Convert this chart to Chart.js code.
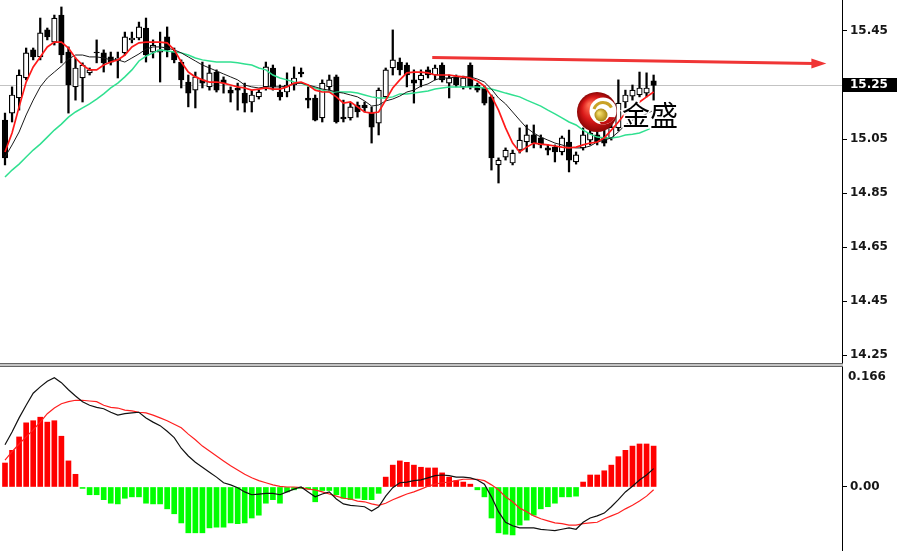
<!DOCTYPE html>
<html><head><meta charset="utf-8">
<script src="https://cdn.jsdelivr.net/npm/chart.js@4.4.0/dist/chart.umd.min.js"></script>
<style>
html,body{margin:0;padding:0;background:#fff;}
#wrap{position:relative;width:900px;height:551px;overflow:hidden;background:#fff}
#c1{position:absolute;left:0;top:0}
#c2{position:absolute;left:0;top:367px}
#sep{position:absolute;left:0;top:363px;width:843px;height:2px;border-top:1px solid #666;border-bottom:1px solid #666;background:#c4c4c4}
</style></head><body>
<div id="wrap">
<canvas id="c1" width="900" height="363"></canvas>
<div id="sep"></div>
<canvas id="c2" width="900" height="184"></canvas>
</div>
<script>
// ---- price candles ----
const opens = [15.120,15.146,15.202,15.276,15.380,15.354,15.454,15.409,15.509,15.372,
15.243,15.276,15.295,15.372,15.369,15.354,15.343,15.369,15.417,15.424,
15.461,15.372,15.372,15.428,15.372,15.335,15.261,15.231,15.269,15.243,
15.298,15.269,15.231,15.239,15.220,15.187,15.206,15.243,15.313,15.224,
15.224,15.250,15.298,15.202,15.202,15.128,15.243,15.280,15.131,15.128,
15.176,15.176,15.150,15.109,15.206,15.313,15.335,15.324,15.269,15.269,
15.306,15.287,15.324,15.257,15.280,15.243,15.324,15.250,15.239,15.206,
14.954,14.983,14.961,15.009,15.039,15.065,15.054,15.017,15.020,15.002,
15.039,14.965,15.017,15.046,15.065,15.057,15.054,15.091,15.187,15.209,
15.213,15.220,15.265];
const highs = [15.146,15.243,15.306,15.387,15.387,15.498,15.461,15.509,15.539,15.391,
15.350,15.332,15.313,15.417,15.380,15.372,15.372,15.446,15.446,15.483,
15.498,15.417,15.446,15.465,15.387,15.343,15.287,15.298,15.335,15.324,
15.306,15.280,15.243,15.257,15.257,15.231,15.231,15.335,15.324,15.250,
15.295,15.317,15.313,15.243,15.213,15.269,15.287,15.287,15.194,15.183,
15.187,15.187,15.169,15.239,15.313,15.454,15.350,15.332,15.306,15.306,
15.317,15.324,15.332,15.287,15.287,15.283,15.332,15.257,15.246,15.213,
14.980,15.017,15.009,15.091,15.102,15.102,15.065,15.028,15.028,15.061,
15.083,15.002,15.091,15.120,15.083,15.083,15.120,15.269,15.231,15.250,
15.298,15.295,15.287];
const lows = [14.954,15.113,15.157,15.269,15.343,15.343,15.417,15.398,15.332,15.146,
15.194,15.187,15.287,15.332,15.298,15.324,15.276,15.361,15.406,15.417,
15.335,15.350,15.261,15.354,15.332,15.239,15.169,15.165,15.239,15.231,
15.224,15.220,15.187,15.157,15.150,15.150,15.198,15.231,15.231,15.194,
15.206,15.231,15.280,15.165,15.117,15.113,15.231,15.109,15.113,15.120,
15.131,15.150,15.035,15.065,15.202,15.287,15.287,15.243,15.183,15.243,
15.276,15.269,15.261,15.202,15.243,15.235,15.235,15.224,15.176,14.935,
14.887,14.972,14.954,14.998,15.002,15.017,15.017,14.991,14.965,14.991,
14.928,14.957,15.009,15.028,15.028,15.024,15.046,15.080,15.165,15.194,
15.206,15.206,15.194];
const closes = [14.980,15.213,15.287,15.369,15.354,15.443,15.428,15.498,15.361,15.250,
15.313,15.324,15.306,15.369,15.332,15.335,15.350,15.428,15.424,15.465,
15.361,15.398,15.380,15.380,15.343,15.269,15.220,15.280,15.257,15.295,
15.231,15.257,15.220,15.231,15.183,15.213,15.224,15.317,15.243,15.206,
15.250,15.276,15.291,15.194,15.120,15.257,15.269,15.113,15.124,15.169,
15.150,15.165,15.094,15.231,15.306,15.343,15.306,15.287,15.257,15.287,
15.287,15.313,15.269,15.276,15.250,15.276,15.243,15.231,15.183,14.980,
14.972,15.009,14.998,15.046,15.065,15.035,15.028,15.009,15.002,15.054,
14.972,14.991,15.065,15.072,15.039,15.035,15.094,15.183,15.213,15.231,
15.239,15.239,15.248];
// ---- moving averages ----
const maFast = [15.002,15.072,15.169,15.261,15.317,15.354,15.391,15.409,15.409,15.387,
15.350,15.324,15.306,15.306,15.324,15.335,15.343,15.361,15.391,15.406,
15.409,15.409,15.409,15.406,15.380,15.335,15.298,15.280,15.269,15.261,
15.261,15.257,15.250,15.243,15.239,15.231,15.235,15.239,15.235,15.235,
15.243,15.257,15.261,15.250,15.231,15.224,15.224,15.206,15.183,15.187,
15.169,15.150,15.146,15.150,15.194,15.239,15.269,15.295,15.298,15.298,
15.295,15.287,15.287,15.287,15.283,15.280,15.276,15.265,15.246,15.209,
15.157,15.091,15.035,15.002,15.020,15.035,15.031,15.028,15.024,15.020,
15.017,15.020,15.028,15.035,15.039,15.054,15.083,15.113,15.146,15.169,
15.187,15.206,15.224];
const maMid = [14.983,15.028,15.076,15.139,15.194,15.243,15.276,15.298,15.320,15.346,
15.361,15.361,15.354,15.354,15.350,15.343,15.343,15.335,15.350,15.365,
15.383,15.391,15.391,15.387,15.380,15.369,15.354,15.339,15.324,15.313,
15.302,15.291,15.280,15.269,15.250,15.243,15.239,15.243,15.243,15.243,
15.246,15.254,15.257,15.250,15.243,15.235,15.231,15.224,15.220,15.213,
15.206,15.191,15.172,15.176,15.191,15.198,15.209,15.224,15.231,15.246,
15.254,15.269,15.276,15.276,15.280,15.280,15.280,15.272,15.261,15.235,
15.202,15.180,15.150,15.120,15.091,15.072,15.057,15.046,15.035,15.028,
15.020,15.017,15.017,15.024,15.039,15.046,15.054,15.076,15.102,15.120,
15.131,15.143,15.157];
const maSlow = [14.909,14.935,14.957,14.983,15.009,15.031,15.057,15.083,15.105,15.131,
15.150,15.165,15.180,15.198,15.217,15.239,15.257,15.280,15.306,15.339,
15.357,15.369,15.380,15.376,15.372,15.369,15.361,15.350,15.343,15.339,
15.335,15.335,15.335,15.332,15.328,15.324,15.313,15.306,15.287,15.276,
15.269,15.261,15.257,15.246,15.239,15.231,15.224,15.224,15.224,15.224,
15.220,15.213,15.206,15.202,15.202,15.206,15.217,15.217,15.220,15.224,
15.228,15.235,15.239,15.243,15.243,15.243,15.243,15.243,15.239,15.235,
15.228,15.220,15.213,15.206,15.194,15.183,15.172,15.157,15.143,15.128,
15.113,15.102,15.083,15.068,15.057,15.054,15.054,15.057,15.065,15.068,
15.072,15.083,15.094];
// ---- MACD panel ----
const macdHist = [0.034,0.052,0.071,0.091,0.094,0.099,0.092,0.094,0.072,0.037,
0.018,-0.002,-0.011,-0.011,-0.018,-0.023,-0.024,-0.016,-0.014,-0.014,
-0.023,-0.024,-0.024,-0.031,-0.038,-0.051,-0.065,-0.065,-0.065,-0.058,
-0.057,-0.057,-0.051,-0.052,-0.051,-0.044,-0.040,-0.023,-0.018,-0.023,
-0.007,-0.004,-0.002,-0.003,-0.021,-0.005,-0.005,-0.011,-0.016,-0.018,
-0.016,-0.018,-0.018,-0.009,0.014,0.031,0.037,0.035,0.031,0.028,
0.027,0.027,0.020,0.014,0.009,0.007,0.004,-0.004,-0.014,-0.044,
-0.065,-0.067,-0.068,-0.054,-0.047,-0.040,-0.031,-0.028,-0.023,-0.014,
-0.014,-0.013,0.007,0.017,0.017,0.023,0.031,0.043,0.052,0.058,
0.061,0.061,0.058];
const macdLine = [0.060,0.078,0.098,0.116,0.133,0.142,0.150,0.155,0.148,0.138,
0.129,0.121,0.116,0.113,0.111,0.106,0.102,0.104,0.105,0.106,
0.098,0.092,0.087,0.079,0.070,0.055,0.044,0.035,0.028,0.021,
0.014,0.006,0.003,-0.001,-0.007,-0.011,-0.010,-0.009,-0.009,-0.011,
-0.007,-0.003,0.000,-0.007,-0.014,-0.010,-0.007,-0.017,-0.024,-0.026,
-0.027,-0.028,-0.034,-0.028,-0.013,-0.001,0.006,0.007,0.009,0.010,
0.013,0.016,0.017,0.016,0.014,0.014,0.013,0.010,0.004,-0.014,
-0.035,-0.050,-0.055,-0.058,-0.058,-0.058,-0.060,-0.061,-0.062,-0.060,
-0.058,-0.060,-0.050,-0.044,-0.041,-0.037,-0.028,-0.018,-0.007,0.001,
0.010,0.017,0.026];
const signalLine = [0.038,0.050,0.061,0.071,0.081,0.092,0.104,0.112,0.118,0.121,
0.123,0.123,0.122,0.121,0.116,0.113,0.112,0.109,0.108,0.106,
0.105,0.102,0.098,0.094,0.089,0.084,0.075,0.067,0.058,0.051,
0.044,0.037,0.030,0.024,0.018,0.013,0.009,0.006,0.003,0.001,
0.000,0.000,-0.001,-0.003,-0.004,-0.007,-0.010,-0.013,-0.016,-0.017,
-0.020,-0.021,-0.024,-0.026,-0.023,-0.018,-0.014,-0.010,-0.007,-0.003,
0.001,0.004,0.006,0.007,0.009,0.011,0.011,0.011,0.009,0.003,
-0.004,-0.014,-0.021,-0.030,-0.035,-0.041,-0.045,-0.048,-0.051,-0.052,
-0.054,-0.054,-0.052,-0.051,-0.050,-0.045,-0.041,-0.037,-0.031,-0.026,
-0.020,-0.013,-0.004];
// ---- axis ticks / labels ----
const priceTicks = [15.45, 15.25, 15.05, 14.85, 14.65, 14.45, 14.25];
const macdTicks = [0];
const macdTopLabel = '0.166';
const lastPrice = 15.25;
const arrowFrom = [60.6, 15.352];
const arrowTo = [116.5, 15.330];
const brandText = '金盛';

// ---- view ranges ----
const X_MIN = -0.709, X_MAX = 118.72;
const P_MIN = 14.2204, P_MAX = 15.5648;
const M_MIN = -0.0908, M_MAX = 0.1702;

const idx = opens.map((_, i) => i);
const wickData = idx.map(i => ({x: i, y: [lows[i], highs[i]]}));
const bodyData = idx.map(i => ({x: i, y: [Math.min(opens[i], closes[i]), Math.max(opens[i], closes[i])]}));
const bodyFill = idx.map(i => closes[i] >= opens[i] ? '#ffffff' : '#000000');
const pts = arr => arr.map((v, i) => ({x: i, y: v}));

const tickFont = {family: 'DejaVu Sans', size: 12, weight: 'bold'};
const tickColor = '#161616';

function yAxis(min, max, ticks, fmt) {
  return {
    type: 'linear', position: 'right', min, max,
    afterFit(s) { s.width = 58; s.paddingTop = 0; s.paddingBottom = 0; },
    afterBuildTicks(s) { s.ticks = ticks.map(v => ({value: v})); },
    ticks: {callback: fmt, font: tickFont, color: tickColor, padding: 3, autoSkip: false, maxRotation: 0},
    grid: {drawOnChartArea: false, drawTicks: true, tickLength: 5, color: '#000', lineWidth: 1},
    border: {display: true, color: '#000', width: 1}
  };
}
const xAxis = {type: 'linear', min: X_MIN, max: X_MAX, display: false, offset: false};

const overlay1 = {
  id: 'overlay1',
  beforeDatasetsDraw(chart) {
    const {ctx, chartArea, scales: {y}} = chart;
    const py = Math.round(y.getPixelForValue(lastPrice)) + 0.5;
    ctx.save();
    ctx.strokeStyle = '#c3c3c3'; ctx.lineWidth = 1;
    ctx.beginPath(); ctx.moveTo(chartArea.left, py); ctx.lineTo(chartArea.right, py); ctx.stroke();
    ctx.restore();
  },
  afterDatasetsDraw(chart) {
    const {ctx, scales: {x, y}} = chart;
    const x1 = x.getPixelForValue(arrowFrom[0]), y1 = y.getPixelForValue(arrowFrom[1]);
    const x2 = x.getPixelForValue(arrowTo[0]), y2 = y.getPixelForValue(arrowTo[1]);
    ctx.save();
    ctx.strokeStyle = '#f03535'; ctx.fillStyle = '#f03535'; ctx.lineWidth = 3;
    ctx.beginPath(); ctx.moveTo(x1, y1); ctx.lineTo(x2 - 12, y2); ctx.stroke();
    ctx.beginPath(); ctx.moveTo(x2, y2); ctx.lineTo(x2 - 15, y2 - 5); ctx.lineTo(x2 - 15, y2 + 5); ctx.closePath(); ctx.fill();
    // logo
    const cx = 597, cy = 112, r = 20;
    let g = ctx.createRadialGradient(cx - 7, cy - 7, 2, cx, cy, r);
    g.addColorStop(0, '#ff6a50'); g.addColorStop(0.55, '#d81818'); g.addColorStop(1, '#8c0505');
    ctx.fillStyle = g; ctx.beginPath(); ctx.arc(cx, cy, r, 0, Math.PI * 2); ctx.fill();
    ctx.fillStyle = '#ffffff'; ctx.beginPath(); ctx.arc(cx + 6, cy - 1, 13.5, 0, Math.PI * 2); ctx.fill();
    ctx.fillStyle = '#c21010'; ctx.beginPath(); ctx.arc(cx + 6, cy - 1, 13.5, Math.PI * 0.15, Math.PI * 0.55); ctx.arc(cx + 4, cy + 1, 9, Math.PI * 0.55, Math.PI * 0.15, true); ctx.closePath(); ctx.fill();
    ctx.strokeStyle = '#c9a227'; ctx.lineWidth = 3;
    ctx.beginPath(); ctx.arc(cx + 6, cy, 9.5, -Math.PI * 0.9, -Math.PI * 0.15); ctx.stroke();
    let g2 = ctx.createRadialGradient(cx + 2, cy + 1, 1, cx + 4, cy + 3, 6.5);
    g2.addColorStop(0, '#f4dc6a'); g2.addColorStop(1, '#a88410');
    ctx.fillStyle = g2; ctx.beginPath(); ctx.arc(cx + 4, cy + 3, 6.5, 0, Math.PI * 2); ctx.fill();
    ctx.font = '28px "Noto Sans CJK SC"';
    ctx.textBaseline = 'middle'; ctx.textAlign = 'left';
    ctx.lineWidth = 3; ctx.strokeStyle = '#ffffff';
    ctx.strokeText(brandText, 622, 115);
    ctx.fillStyle = '#000000'; ctx.fillText(brandText, 622, 115);
    ctx.restore();
  },
  afterDraw(chart) {
    const {ctx, scales: {y}} = chart;
    const py = y.getPixelForValue(lastPrice);
    ctx.save();
    ctx.fillStyle = '#000'; ctx.fillRect(843, Math.round(py) - 7, 54, 14);
    ctx.fillStyle = '#fff';
    ctx.font = 'bold 12px "DejaVu Sans"'; ctx.textBaseline = 'middle'; ctx.textAlign = 'left';
    ctx.fillText(lastPrice.toFixed(2), 850, py);
    ctx.restore();
  }
};

new Chart(document.getElementById('c1'), {
  type: 'bar',
  data: {
    datasets: [
      {type: 'line', data: pts(maFast), borderColor: '#ff1a1a', borderWidth: 1.7, pointRadius: 0, tension: 0, order: 0},
      {type: 'line', data: pts(maMid), borderColor: '#1a1a1a', borderWidth: 1, pointRadius: 0, tension: 0, order: 0},
      {type: 'line', data: pts(maSlow), borderColor: '#30e090', borderWidth: 1.5, pointRadius: 0, tension: 0, order: 0},
      {data: bodyData, backgroundColor: bodyFill, borderColor: '#000', borderWidth: 1.2, borderSkipped: false, barThickness: 5.5, grouped: false, order: 1},
      {data: wickData, backgroundColor: '#000', borderWidth: 0, barThickness: 1.6, grouped: false, order: 2}
    ]
  },
  options: {
    responsive: false, animation: false, events: [], devicePixelRatio: 1,
    layout: {padding: 0},
    plugins: {legend: {display: false}, tooltip: {enabled: false}},
    scales: {x: xAxis, y: yAxis(P_MIN, P_MAX, priceTicks, v => v.toFixed(2))}
  },
  plugins: [overlay1]
});

const overlay2 = {
  id: 'overlay2',
  afterDraw(chart) {
    const {ctx} = chart;
    ctx.save();
    ctx.fillStyle = tickColor; ctx.font = 'bold 12px "DejaVu Sans"';
    ctx.textBaseline = 'middle'; ctx.textAlign = 'left';
    ctx.fillText(macdTopLabel, 848, 10);
    ctx.restore();
  }
};

new Chart(document.getElementById('c2'), {
  type: 'bar',
  data: {
    datasets: [
      {type: 'line', data: pts(macdLine), borderColor: '#111', borderWidth: 1.2, pointRadius: 0, tension: 0, order: 0},
      {type: 'line', data: pts(signalLine), borderColor: '#ff2020', borderWidth: 1.2, pointRadius: 0, tension: 0, order: 0},
      {data: pts(macdHist), backgroundColor: macdHist.map(v => v >= 0 ? '#ff0000' : '#00ff00'), borderWidth: 0, barThickness: 5, order: 1}
    ]
  },
  options: {
    responsive: false, animation: false, events: [], devicePixelRatio: 1,
    layout: {padding: 0},
    plugins: {legend: {display: false}, tooltip: {enabled: false}},
    scales: {x: xAxis, y: yAxis(M_MIN, M_MAX, macdTicks, v => v.toFixed(2))}
  },
  plugins: [overlay2]
});
</script>
</body></html>
